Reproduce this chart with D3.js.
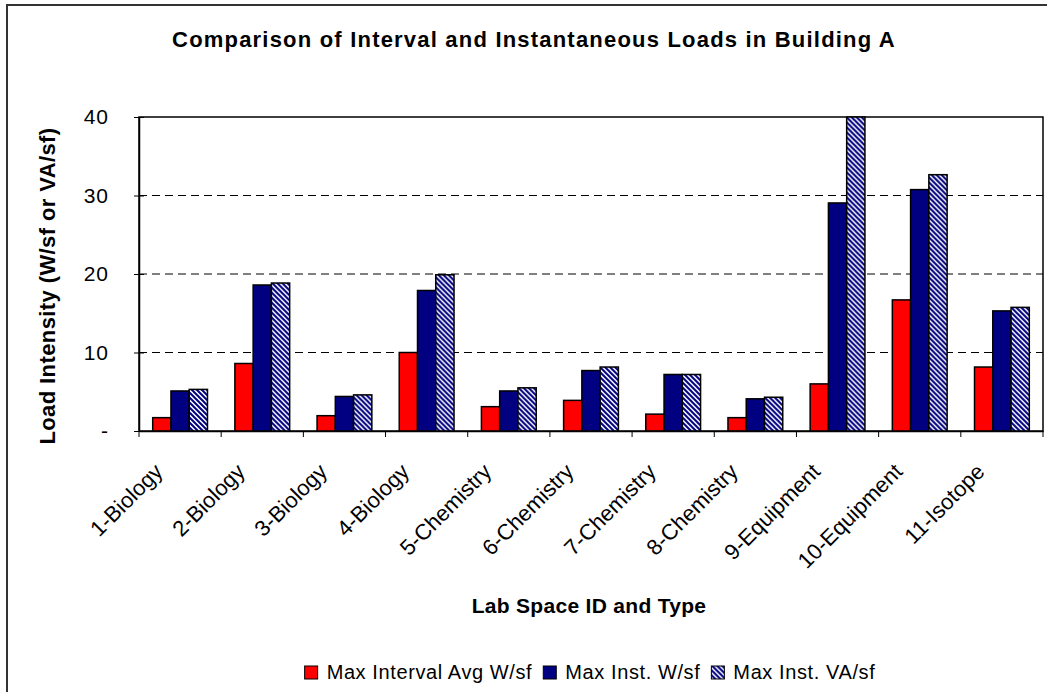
<!DOCTYPE html>
<html>
<head>
<meta charset="utf-8">
<script src="https://cdn.jsdelivr.net/npm/d3@7"></script>
<style>
  body { margin: 0; background: #fff; }
  text { font-family: 'Liberation Sans', Arial, sans-serif; fill: #000; }
</style>
</head>
<body>
<div id="chart"></div>
<script>
// categories along the x axis
const categories = ['1-Biology', '2-Biology', '3-Biology', '4-Biology', '5-Chemistry',
    '6-Chemistry', '7-Chemistry', '8-Chemistry', '9-Equipment', '10-Equipment', '11-Isotope'];

// series names (legend order)
const seriesNames = ['Max Interval Avg W/sf', 'Max Inst. W/sf', 'Max Inst. VA/sf'];

// values
const maxIntervalAvg = [1.7, 8.6, 1.95, 10.0, 3.1, 3.9, 2.15, 1.7, 6.0, 16.7, 8.15];
const maxInstW = [5.1, 18.6, 4.4, 17.9, 5.1, 7.7, 7.2, 4.1, 29.05, 30.75, 15.3];
const maxInstVA = [5.3, 18.85, 4.6, 19.9, 5.5, 8.15, 7.2, 4.3, 40, 32.65, 15.75];

const yTicks = [0, 10, 20, 30, 40];

const W = 1047, H = 692;
const margin = { top: 117, right: 4, bottom: 261, left: 139 };
const width = W - margin.left - margin.right;
const height = H - margin.top - margin.bottom;

const series = [maxIntervalAvg, maxInstW, maxInstVA];

const svg = d3.select('#chart').append('svg')
    .attr('width', W)
    .attr('height', H);

// hatch pattern for the VA/sf series
const defs = svg.append('defs');
const pat = defs.append('pattern')
    .attr('id', 'hatch')
    .attr('patternUnits', 'userSpaceOnUse')
    .attr('width', 5)
    .attr('height', 5);
pat.append('rect').attr('width', 5).attr('height', 5).attr('fill', '#fff');
pat.append('path')
    .attr('d', 'M-1,-1 L6,6 M-1,4 L1,6 M4,-1 L6,1')
    .attr('stroke', '#000080')
    .attr('stroke-width', 2);

const fills = ['#ff0000', '#000080', 'url(#hatch)'];

// outer frame
svg.append('rect')
    .attr('x', 7).attr('y', 5)
    .attr('width', 1100).attr('height', 800)
    .attr('fill', 'none')
    .attr('stroke', '#333')
    .attr('stroke-width', 2);

const g = svg.append('g')
    .attr('transform', `translate(${margin.left}, ${margin.top})`);

const x = d3.scaleBand()
    .domain(categories)
    .range([0, width])
    .padding(0);

const xs = d3.scaleBand()
    .domain(d3.range(series.length))
    .range([0, x.bandwidth()])
    .paddingInner(0)
    .paddingOuter(0.75);

const y = d3.scaleLinear()
    .domain([0, 40])
    .range([height, 0]);

// dashed gridlines
g.append('g')
    .selectAll('line')
    .data(yTicks.filter((d) => d > 0 && d < 40))
    .enter()
    .append('line')
    .attr('x1', 0)
    .attr('x2', width)
    .attr('y1', (d) => y(d))
    .attr('y2', (d) => y(d))
    .attr('stroke', '#000')
    .attr('stroke-width', 1)
    .attr('stroke-dasharray', '8,5');

// plot area border
g.append('rect')
    .attr('width', width)
    .attr('height', height)
    .attr('fill', 'none')
    .attr('stroke', '#000')
    .attr('stroke-width', 1.5);

// bars
const groups = g.selectAll('.grp')
    .data(categories)
    .enter()
    .append('g')
    .attr('class', 'grp')
    .attr('transform', (d) => `translate(${x(d)}, 0)`);

groups.selectAll('rect')
    .data((d, i) => series.map((s, k) => ({ k: k, v: s[i] })))
    .enter()
    .append('rect')
    .attr('x', (d) => xs(d.k))
    .attr('y', (d) => y(d.v))
    .attr('width', xs.bandwidth())
    .attr('height', (d) => height - y(d.v))
    .attr('fill', (d) => fills[d.k])
    .attr('stroke', '#000')
    .attr('stroke-width', 1.5);

// y axis
const yAxis = g.append('g')
    .call(d3.axisLeft(y)
        .tickValues(yTicks)
        .tickSizeInner(5)
        .tickSizeOuter(0)
        .tickPadding(25)
        .tickFormat((d) => d === 0 ? '-' : d));
yAxis.select('.domain').attr('stroke', '#000').attr('stroke-width', 1.5);
yAxis.selectAll('.tick line').attr('x2', -5).attr('x1', 5).attr('stroke', '#000');
yAxis.selectAll('.tick text')
    .style('font-size', '21px')
    .style('letter-spacing', '1px')
    .attr('fill', '#000');

// x axis
const xAxis = g.append('g')
    .attr('transform', `translate(0, ${height})`)
    .call(d3.axisBottom(x).tickSize(0).tickFormat(''));
xAxis.select('.domain').attr('stroke', '#000').attr('stroke-width', 1.5);

g.append('g')
    .selectAll('line')
    .data(d3.range(categories.length + 1))
    .enter()
    .append('line')
    .attr('x1', (i) => i * x.step())
    .attr('x2', (i) => i * x.step())
    .attr('y1', height)
    .attr('y2', height + 6)
    .attr('stroke', '#000');

g.append('g')
    .selectAll('text')
    .data(categories)
    .enter()
    .append('text')
    .attr('transform', (d) => `translate(${x(d) + x.bandwidth() / 2 - 16}, ${height + 42}) rotate(-45)`)
    .style('text-anchor', 'end')
    .style('font-size', '22px')
    .text((d) => d);

// titles
svg.append('text')
    .attr('x', 534)
    .attr('y', 47)
    .style('text-anchor', 'middle')
    .style('font-size', '22px')
    .style('font-weight', 'bold')
    .style('letter-spacing', '1.2px')
    .text('Comparison of Interval and Instantaneous Loads in Building A');

svg.append('text')
    .attr('transform', 'translate(55, 286) rotate(-90)')
    .style('text-anchor', 'middle')
    .style('font-size', '22px')
    .style('font-weight', 'bold')
    .style('letter-spacing', '0.4px')
    .text('Load Intensity (W/sf or VA/sf)');

svg.append('text')
    .attr('x', 589)
    .attr('y', 613)
    .style('text-anchor', 'middle')
    .style('font-size', '21px')
    .style('font-weight', 'bold')
    .style('letter-spacing', '0.3px')
    .text('Lab Space ID and Type');

// legend
const legend = svg.append('g');
const items = legend.selectAll('g')
    .data(seriesNames)
    .enter()
    .append('g');
items.append('rect')
    .attr('width', 13)
    .attr('height', 13)
    .attr('y', 666)
    .attr('fill', (d, i) => fills[i])
    .attr('stroke', '#000')
    .attr('stroke-width', 1);
items.append('text')
    .attr('x', 22)
    .attr('y', 679)
    .style('font-size', '20px')
    .style('letter-spacing', '0.6px')
    .text((d) => d);

let pos = 0;
const widths = [];
items.each(function () {
    const w = d3.select(this).select('text').node().getComputedTextLength();
    widths.push(w);
});
const gap = 11;
const total = d3.sum(widths, (w) => 22 + w) + gap * (widths.length - 1);
pos = 590 - total / 2;
items.attr('transform', (d, i) => {
    const t = `translate(${pos}, 0)`;
    pos += 22 + widths[i] + gap;
    return t;
});
</script>
</body>
</html>
